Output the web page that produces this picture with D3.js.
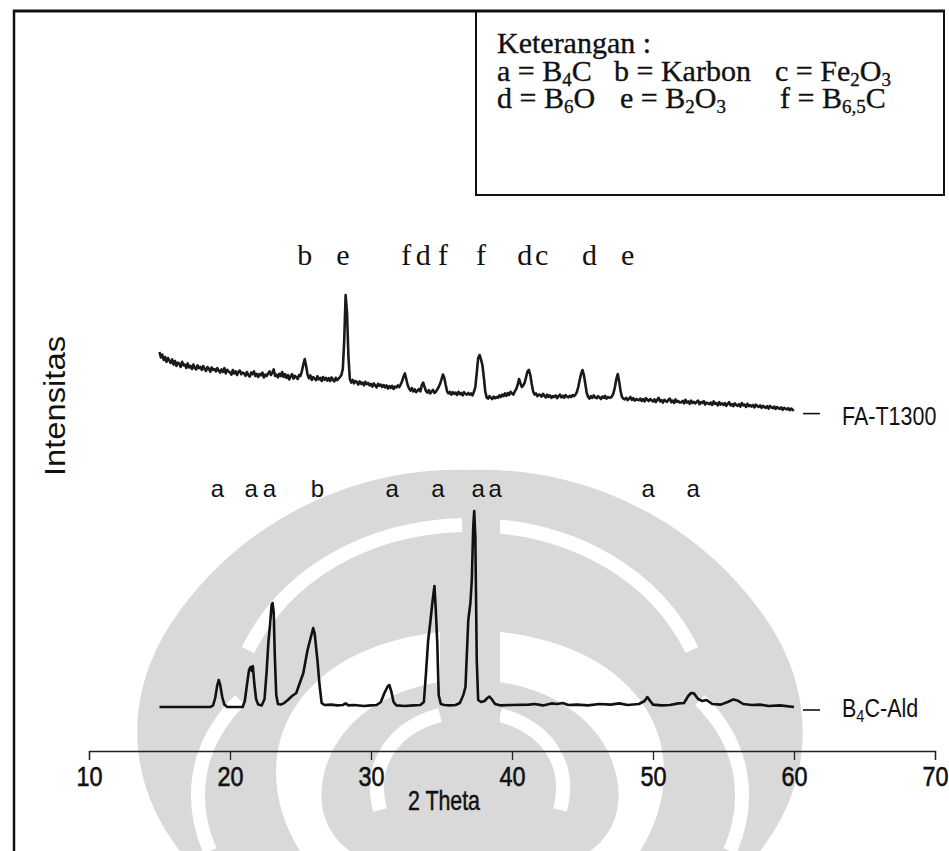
<!DOCTYPE html>
<html>
<head>
<meta charset="utf-8">
<script src="https://cdn.jsdelivr.net/npm/d3@7"></script>
<style>
  html, body { margin: 0; padding: 0; background: #fff; }
  svg { display: block; }
</style>
</head>
<body>
<svg id="chart" width="949" height="851"></svg>
<script>
// ---- data ----------------------------------------------------------------
// FA-T1300 scan: regular 2θ grid (degrees)
const scanStart = 15.0;
const scanStep = 0.1;
// FA-T1300 intensity (counts), one row per degree, 0.1° steps
const intensityFA = [
  325, 298, 312, 285, 300, 276, 295, 282, 270, 288,   // 15
  262, 280, 255, 272, 266, 250, 276, 258, 262, 245,   // 16
  268, 248, 255, 240, 262, 246, 238, 258, 244, 250,   // 17
  236, 255, 240, 230, 250, 242, 226, 248, 235, 240,   // 18
  228, 245, 232, 222, 238, 226, 244, 218, 236, 228,   // 19
  222, 212, 235, 218, 228, 210, 226, 232, 214, 222,   // 20
  218, 206, 225, 210, 202, 222, 214, 228, 205, 216,   // 21
  200, 215, 208, 222, 198, 212, 205, 218, 228, 210,   // 22
  222, 238, 205, 212, 198, 216, 204, 225, 200, 214,   // 23
  196, 210, 188, 204, 214, 192, 206, 198, 190, 210,   // 24
  205, 230, 262, 290, 255, 212, 194, 208, 186, 200,   // 25
  192, 184, 204, 188, 196, 180, 200, 186, 196, 182,   // 26
  194, 180, 198, 186, 178, 196, 184, 192, 200, 210,   // 27
  240, 380, 610, 520, 300, 190, 172, 186, 168, 180,   // 28
  175, 162, 178, 166, 172, 158, 176, 164, 170, 158,   // 29
  165, 152, 168, 158, 148, 166, 156, 162, 150, 160,   // 30
  148, 158, 142, 154, 146, 156, 140, 152, 148, 158,   // 31
  150, 162, 178, 200, 218, 190, 160, 142, 132, 145,   // 32
  128, 138, 124, 132, 140, 128, 158, 172, 150, 130,   // 33
  122, 134, 118, 128, 136, 120, 126, 138, 150, 166,   // 34
  188, 212, 196, 160, 128, 118, 126, 112, 124, 116,   // 35
  122, 110, 126, 114, 120, 108, 124, 116, 112, 120,   // 36
  112, 118, 108, 126, 150, 220, 295, 310, 288, 260,   // 37
  200, 130,  98,  92, 104,  96,  90, 102,  94, 100,   // 38
   96, 108, 100, 112, 104, 118, 106, 120, 110, 126,   // 39
  118, 112, 128, 140, 160, 190, 168, 150, 158, 172,   // 40
  200, 228, 235, 210, 165, 128, 112, 118, 104, 112,   // 41
  110, 102, 116, 106,  98, 112, 100, 108,  96, 104,   // 42
  100, 108,  94, 104, 112,  98, 106,  96, 110, 102,   // 43
   98, 106, 100, 110, 104, 112, 124, 150, 185, 215,   // 44
  235, 210, 165, 120, 100,  92, 104,  96, 108,  98,   // 45
   94, 104,  98,  90, 102,  96, 106,  92, 100,  96,   // 46
   98, 104, 120, 150, 190, 215, 178, 130, 100,  92,   // 47
   88,  96,  84,  92, 100,  86,  94,  82,  90,  86,   // 48
   84,  92,  80,  90,  78,  94,  86,  80,  90,  84,   // 49
   78,  88,  74,  86,  96,  78,  84,  72,  86,  80,   // 50
   76,  86,  92,  74,  82,  70,  88,  76,  80,  72,   // 51
   74,  80,  68,  86,  72,  78,  66,  82,  70,  76,   // 52
   68,  76,  82,  64,  74,  70,  80,  62,  72,  68,   // 53
   64,  72,  60,  78,  66,  70,  58,  74,  62,  68,   // 54
   60,  70,  56,  66,  74,  58,  64,  54,  68,  60,   // 55
   56,  64,  52,  70,  58,  62,  50,  66,  54,  60,   // 56
   52,  60,  48,  62,  54,  50,  58,  46,  56,  50,   // 57
   46,  54,  42,  56,  48,  44,  52,  40,  50,  44,   // 58
   40,  48,  36,  46,  42,  38,  44,  34,  42,  36,   // 59
   32                                                 // 60
];

// B4C-Ald scan: [2θ, intensity]
const intensityB4C = [
  [15.0,0],[18.6,0],[18.8,8],[18.95,45],[19.1,110],[19.2,135],[19.3,112],[19.45,50],[19.6,12],[19.8,0],
  [20.9,0],[21.05,30],[21.2,110],[21.35,185],[21.45,200],[21.55,180],[21.62,205],[21.72,120],[21.85,40],[22.0,12],
  [22.25,8],[22.45,40],[22.6,180],[22.72,320],[22.85,420],[22.95,510],[23.02,520],[23.1,470],[23.18,250],[23.28,60],
  [23.4,15],[23.6,12],[23.8,18],[24.1,35],[24.4,55],[24.7,70],[24.95,120],[25.2,170],[25.5,285],[25.7,340],
  [25.9,395],[26.0,370],[26.2,235],[26.35,110],[26.5,20],[26.7,10],[27.2,12],[27.6,8],[28.0,10],[28.2,18],
  [28.4,8],[28.8,10],[29.5,5],[30.0,8],[30.4,10],[30.7,25],[30.95,70],[31.2,105],[31.3,110],[31.45,75],
  [31.6,25],[31.8,8],[32.4,5],[33.0,8],[33.5,10],[33.75,25],[33.9,170],[34.05,330],[34.2,420],[34.35,520],
  [34.5,605],[34.6,480],[34.7,320],[34.8,60],[34.95,15],[35.2,10],[35.6,8],[36.0,10],[36.3,20],[36.55,60],
  [36.7,100],[36.9,435],[37.05,520],[37.15,635],[37.25,900],[37.32,980],[37.4,850],[37.5,235],[37.6,35],[37.8,25],
  [38.05,30],[38.25,45],[38.4,52],[38.55,40],[38.8,15],[39.2,8],[40.0,10],[41.2,12],[41.6,15],[42.2,8],
  [42.8,18],[43.2,15],[43.6,20],[44.0,10],[44.6,12],[45.4,8],[46.2,15],[47.0,12],[47.6,18],[48.2,10],
  [49.0,15],[49.4,30],[49.6,50],[49.8,30],[50.0,12],[50.6,8],[51.2,10],[51.8,18],[52.2,20],[52.5,55],
  [52.7,70],[52.9,68],[53.2,40],[53.5,30],[53.8,35],[54.2,15],[54.8,12],[55.3,25],[55.7,38],[56.0,32],
  [56.4,15],[57.0,10],[57.6,12],[58.2,5],[59.0,8],[60.0,0]
];

// vertical offset of each pattern in the stack (counts)
const offsetFA = 1450;
const offsetB4C = 0;

const xTicks = [10, 20, 30, 40, 50, 60, 70];

// phase letters above the peaks
const peakLettersFA = ["b", "e", "f", "d", "f", "f", "d", "c", "d", "e"];
const peakThetaFA   = [25.3, 28.0, 32.5, 33.7, 35.1, 37.8, 40.9, 42.1, 45.5, 48.2];
const peakLettersB4C = ["a", "a", "a", "b", "a", "a", "a", "a", "a", "a"];
const peakThetaB4C   = [19.1, 21.5, 22.8, 26.2, 31.5, 34.75, 37.6, 38.8, 49.65, 52.85];

// legend entries: [text, "sub" for subscripts]
const legendTitle = "Keterangan :";
const legendRows = [
  [ [["a = B",""],["4","sub"],["C",""]],
    [["b = Karbon",""]],
    [["c = Fe",""],["2","sub"],["O",""],["3","sub"]] ],
  [ [["d = B",""],["6","sub"],["O",""]],
    [["e = B",""],["2","sub"],["O",""],["3","sub"]],
    [["f = B",""],["6,5","sub"],["C",""]] ]
];

const seriesNames = [ [["FA-T1300",""]], [["B",""],["4","sub"],["C-Ald",""]] ];
const xTitle = "2 Theta";
const yTitle = "Intensitas";

// ---- drawing -------------------------------------------------------------
const svg = d3.select("#chart");
const SANS = "'Liberation Sans', Arial, sans-serif";
const SERIF = "'Liberation Serif', 'Times New Roman', serif";

const x = d3.scaleLinear().domain([10, 70]).range([89, 935]);
const y = d3.scaleLinear().domain([0, 1000]).range([707, 507]);

// university watermark in the background
const wm = svg.append("g").attr("fill", "#d9d9d9");
function wmHalf(g) {
  g.append("path").attr("d",
    "M470,470 C590,466 705,525 770,625 C818,700 812,785 760,851 L640,851 C672,800 672,742 640,700 C606,655 545,632 470,630 Z");
  g.append("path").attr("d",
    "M470,680 C548,680 610,722 618,785 C622,818 606,840 590,851 L470,851 Z");
  g.append("rect").attr("x", 440).attr("y", 470).attr("width", 30).attr("height", 381);
  const w = g.append("g").attr("fill", "none").attr("stroke", "#fff").attr("stroke-width", 14);
  w.append("path").attr("d", "M478,525 C575,528 655,575 692,650");
  w.append("path").attr("d", "M500,715 C548,728 572,765 560,810");
  w.append("path").attr("d", "M700,700 C745,745 752,800 730,851");
}
wmHalf(wm.append("g"));
wmHalf(wm.append("g").attr("transform", "translate(940,0) scale(-1,1)"));

// frame and legend box
const frame = svg.append("g").attr("stroke", "#111").attr("fill", "none");
frame.append("line").attr("x1", 14).attr("x2", 14).attr("y1", 10).attr("y2", 851).attr("stroke-width", 2.5);
frame.append("line").attr("x1", 13).attr("x2", 945).attr("y1", 11).attr("y2", 11).attr("stroke-width", 3);
frame.append("rect").attr("x", 476).attr("y", 11).attr("width", 468).attr("height", 184).attr("stroke-width", 2);

// text with subscript pieces
function richText(sel, pieces, mainSize, subSize) {
  pieces.forEach(([t, kind], i) => {
    const prev = i > 0 ? pieces[i - 1][1] : "";
    const ts = sel.append("tspan").text(t);
    if (kind === "sub") ts.attr("font-size", subSize).attr("dy", prev === "sub" ? 0 : mainSize * 0.18);
    else if (prev === "sub") ts.attr("dy", -mainSize * 0.18);
  });
}

// legend text
const leg = svg.append("g").attr("font-family", SERIF).attr("font-size", 30).attr("fill", "#111")
  .attr("stroke", "#111").attr("stroke-width", 0.35);
leg.append("text").attr("x", 497).attr("y", 53).text(legendTitle);
const colX = [497, 614, 775, 497, 620, 780];
const rowY = [81, 108];
legendRows.forEach((row, r) => {
  row.forEach((item, c) => {
    const t = leg.append("text").attr("x", colX[r * 3 + c]).attr("y", rowY[r]);
    richText(t, item, 30, 19);
  });
});

// x axis
const axis = svg.append("g")
  .attr("transform", "translate(0,751)")
  .call(d3.axisBottom(x).tickValues(xTicks).tickSize(9).tickSizeOuter(9).tickPadding(6).tickFormat(d3.format("d")));
axis.select(".domain").attr("stroke", "#222").attr("stroke-width", 1.3);
axis.selectAll(".tick line").attr("stroke", "#222").attr("stroke-width", 1.3);
axis.selectAll(".tick text")
  .attr("font-family", SANS).attr("font-size", 28).attr("fill", "#111")
  .attr("stroke", "#111").attr("stroke-width", 0.6)
  .attr("textLength", 26).attr("lengthAdjust", "spacingAndGlyphs");

// axis titles
svg.append("text").attr("x", 444).attr("y", 810).attr("text-anchor", "middle")
  .attr("font-family", SANS).attr("font-size", 28).attr("fill", "#111")
  .attr("stroke", "#111").attr("stroke-width", 0.5)
  .attr("textLength", 72).attr("lengthAdjust", "spacingAndGlyphs").text(xTitle);
svg.append("text").attr("transform", "translate(65,406) rotate(-90)").attr("text-anchor", "middle")
  .attr("font-family", SANS).attr("font-size", 30).attr("fill", "#111")
  .attr("textLength", 140).attr("lengthAdjust", "spacingAndGlyphs").text(yTitle);

// patterns
const faPoints = intensityFA.map((v, i) => [scanStart + i * scanStep, v + offsetFA]);
const b4cPoints = intensityB4C.map(([t, v]) => [t, v + offsetB4C]);
const line = d3.line().x(d => x(d[0])).y(d => y(d[1]));

svg.append("path").datum(faPoints).attr("d", line)
  .attr("fill", "none").attr("stroke", "#1a1a1a").attr("stroke-width", 2.6).attr("stroke-linejoin", "round");
svg.append("path").datum(b4cPoints).attr("d", line)
  .attr("fill", "none").attr("stroke", "#111").attr("stroke-width", 2.6).attr("stroke-linejoin", "round");

// series names at the right end of each pattern
const nameShift = [14, 10];
[[faPoints, 0], [b4cPoints, 1]].forEach(([pts, k]) => {
  const base = y(pts[pts.length - 1][1]);
  svg.append("line").attr("x1", 803).attr("x2", 820).attr("y1", base + 3).attr("y2", base + 3)
    .attr("stroke", "#111").attr("stroke-width", 1.6);
  const t = svg.append("text").attr("transform", `translate(842,${base + nameShift[k]}) scale(0.86,1)`)
    .attr("font-family", SANS).attr("font-size", 25).attr("fill", "#111");
  richText(t, seriesNames[k], 25, 17);
});

// phase letters
svg.append("g").attr("font-family", SERIF).attr("font-size", 30).attr("fill", "#111")
  .attr("text-anchor", "middle")
  .selectAll("text").data(peakLettersFA).join("text")
  .attr("x", (d, i) => x(peakThetaFA[i])).attr("y", 265).text(d => d);
svg.append("g").attr("font-family", SANS).attr("font-size", 24).attr("fill", "#111")
  .attr("text-anchor", "middle")
  .selectAll("text").data(peakLettersB4C).join("text")
  .attr("x", (d, i) => x(peakThetaB4C[i])).attr("y", 497).text(d => d);
</script>
</body>
</html>
